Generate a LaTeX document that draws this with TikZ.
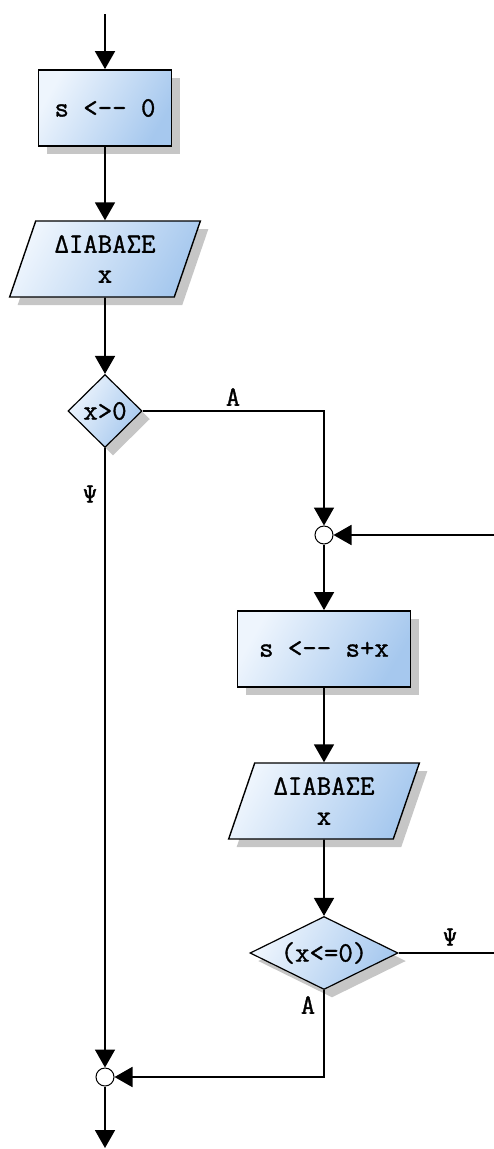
\documentclass[tikz,border=0pt]{standalone}
\usepackage{fontspec}
\newfontface\flowfont{Latin Modern Mono}[FakeBold=1.2]
\usetikzlibrary{arrows.meta,shapes.geometric,shadows}
\definecolor{lightblue}{HTML}{EEF5FD}
\definecolor{darkblue}{HTML}{A6C8EE}
\definecolor{shadowgray}{HTML}{C6C6C6}
\begin{document}
\begin{tikzpicture}[x=1pt,y=-1pt,
  >={Triangle[length=18pt,width=20pt]},
  line width=1.8pt,
  every node/.style={font=\flowfont\fontsize{28}{30}\selectfont},
  blockfill/.style={top color=lightblue, bottom color=darkblue, shading angle=60, draw=black,
    drop shadow={shadow xshift=8pt, shadow yshift=-8pt, fill=shadowgray, opacity=1}},
  procbox/.style={blockfill, rectangle, minimum width=133pt, minimum height=76pt, inner sep=0pt},
  iobox/.style={blockfill, trapezium, trapezium left angle=68.2, trapezium right angle=111.8,
    trapezium stretches=true, minimum width=191pt, minimum height=76pt, inner sep=0pt, align=center, line width=1.4pt},
  decbox/.style={blockfill, diamond, inner sep=0pt, line width=1.2pt},
  junction/.style={circle, draw, fill=white, minimum size=18pt, inner sep=0pt, line width=1pt},
  lbl/.style={inner sep=0pt}
]
\useasboundingbox (0,0) rectangle (494,1149);
\coordinate (start) at (105,14);
\node[procbox] (b1) at (105,108) {s <-{}- 0};
\node[iobox] (r1) at (105,259) {ΔΙΑΒΑΣΕ\\x};
\node[decbox, minimum width=74pt, minimum height=73pt] (d1) at (105,411) {\makebox[0pt]{x>0}};
\node[junction] (c1) at (324,535) {};
\coordinate (loopin) at (494,535);
\node[procbox, minimum width=173pt] (b2) at (324,649) {s <-{}- s+x};
\node[iobox] (r2) at (324,801) {ΔΙΑΒΑΣΕ\\x};
\node[decbox, minimum width=148pt, minimum height=73pt] (d2) at (324,953) {\makebox[0pt]{(x<=0)}};
\coordinate (loopout) at (494,953);
\node[junction] (c2) at (105,1077) {};
\coordinate (end) at (105,1148);

\draw[->] (start) -- (b1);
\draw[->] (b1) -- (r1);
\draw[->] (r1) -- (d1);
\draw[->] (d1.east) -| (c1.north);
\draw[->] (loopin) -- (c1.east);
\draw[->] (c1) -- (b2);
\draw[->] (b2) -- (r2);
\draw[->] (r2) -- (d2);
\draw (d2.east) -- (loopout);
\draw[->] (d2.south) |- (c2.east);
\draw[->] (d1.south) -- (c2.north);
\draw[->] (c2) -- (end);

\node[lbl] (lA1) at (233,397) {A};
\node[lbl] (lY1) at (90,494) {Ψ};
\node[lbl] (lY2) at (450,937) {Ψ};
\node[lbl] (lA2) at (308,1005) {A};
\end{tikzpicture}
\end{document}
